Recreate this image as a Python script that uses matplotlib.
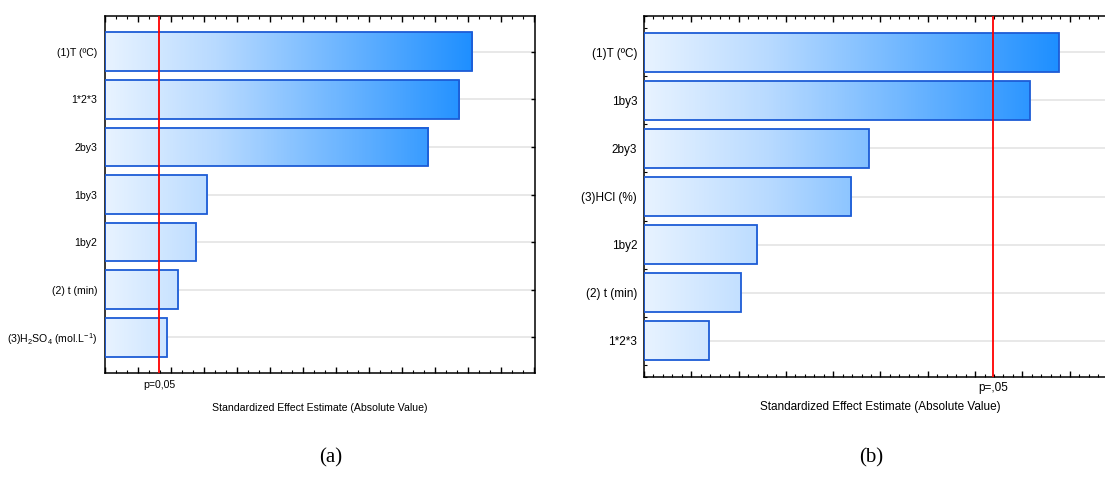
import numpy as np
import matplotlib
matplotlib.use('Agg')
import matplotlib.pyplot as plt
from matplotlib.colors import LinearSegmentedColormap
from matplotlib.ticker import MultipleLocator, AutoMinorLocator

plt.rcParams['font.family'] = ['Liberation Sans', 'DejaVu Sans']
plt.rcParams['mathtext.fontset'] = 'custom'
plt.rcParams['mathtext.rm'] = 'Liberation Sans'
plt.rcParams['mathtext.it'] = 'Liberation Sans:italic'

# panel (a)
labels_a = ['(1)T (ºC)', '1*2*3', '2by3', '1by3', '1by2', '(2) t (min)',
            r'(3)H$_2$SO$_4$ (mol.L$^{-1}$)']
effects_a = [11.12, 10.74, 9.79, 3.09, 2.78, 2.22, 1.88]
pcrit_a = 1.65
ptext_a = 'p=0,05'

# panel (b)
labels_b = ['(1)T (ºC)', '1by3', '2by3', '(3)HCl (%)', '1by2', '(2) t (min)', '1*2*3']
effects_b = [8.77, 8.16, 4.75, 4.38, 2.39, 2.05, 1.37]
pcrit_b = 7.38
ptext_b = 'p=,05'

xtitle = 'Standardized Effect Estimate (Absolute Value)'

W, H = 1105, 488
fig = plt.figure(figsize=(W/100, H/100), dpi=100)

def px_axes(l, r, t, b):
    return fig.add_axes([l/W, 1-b/H, (r-l)/W, (b-t)/H])

cmap = LinearSegmentedColormap.from_list('grad', [(0, '#e8f3ff'), (0.3, '#b8daff'), (1, '#1e8fff')])

def pareto(ax, labels, vals, pcrit, ptxt, xmax, nminor, fs, p_off, lab_off, yminor=False):
    y = np.arange(len(vals))
    vmax = max(vals)
    h = 0.81
    for yi in y:
        ax.axhline(yi, color='#e2e2e2', lw=1.1, zorder=1)
    for yi, v in zip(y, vals):
        g = np.linspace(0, v/vmax, 256).reshape(1, -1)
        ax.imshow(g, cmap=cmap, vmin=0, vmax=1, aspect='auto',
                  extent=(0, v, yi+h/2, yi-h/2), zorder=2, interpolation='bilinear')
    ax.barh(y, vals, height=h, facecolor='none', edgecolor='#1d5cd6', lw=1.3, zorder=3)
    ax.axvline(pcrit, color='red', lw=1.3, zorder=4)
    ax.set_xlim(0, xmax)
    ax.set_ylim(len(vals)-0.25, -0.75)
    ax.set_yticks(y)
    ax.set_yticklabels(labels, fontsize=fs)
    ax.xaxis.set_major_locator(MultipleLocator(1))
    ax.xaxis.set_minor_locator(AutoMinorLocator(nminor))
    ax.tick_params(axis='x', which='both', direction='in', top=True, labelbottom=False)
    ax.tick_params(axis='x', which='major', length=4, width=1)
    ax.tick_params(axis='x', which='minor', length=2, width=0.8)
    ax.tick_params(axis='y', which='major', direction='in', right=True, length=3, width=1, pad=5)
    if yminor:
        ax.yaxis.set_minor_locator(MultipleLocator(0.25))
        ax.tick_params(axis='y', which='minor', direction='in', length=2, width=0.8)
    for s in ax.spines.values():
        s.set_linewidth(1.1)
    ax.annotate(ptxt, xy=(pcrit, 0), xycoords=('data', 'axes fraction'),
                xytext=(0, -p_off), textcoords='offset pixels',
                ha='center', va='center', fontsize=fs)
    ax.annotate(xtitle, xy=(0.5, 0), xycoords='axes fraction',
                xytext=(0, -lab_off), textcoords='offset pixels',
                ha='center', va='center', fontsize=fs)

ax1 = px_axes(104.5, 535, 16, 373)
pareto(ax1, labels_a, effects_a, pcrit_a, ptext_a, 13.04, 3, 7.6, 12, 35)

ax2 = px_axes(644, 1116, 16, 377)
pareto(ax2, labels_b, effects_b, pcrit_b, ptext_b, 9.98, 5, 8.5, 11, 30, yminor=True)

fig.text(331/W, 1-458/H, '(a)', family='Liberation Serif', fontsize=15, ha='center', va='center')
fig.text(871/W, 1-458/H, '(b)', family='Liberation Serif', fontsize=15, ha='center', va='center')

fig.savefig('out.png', dpi=100)
